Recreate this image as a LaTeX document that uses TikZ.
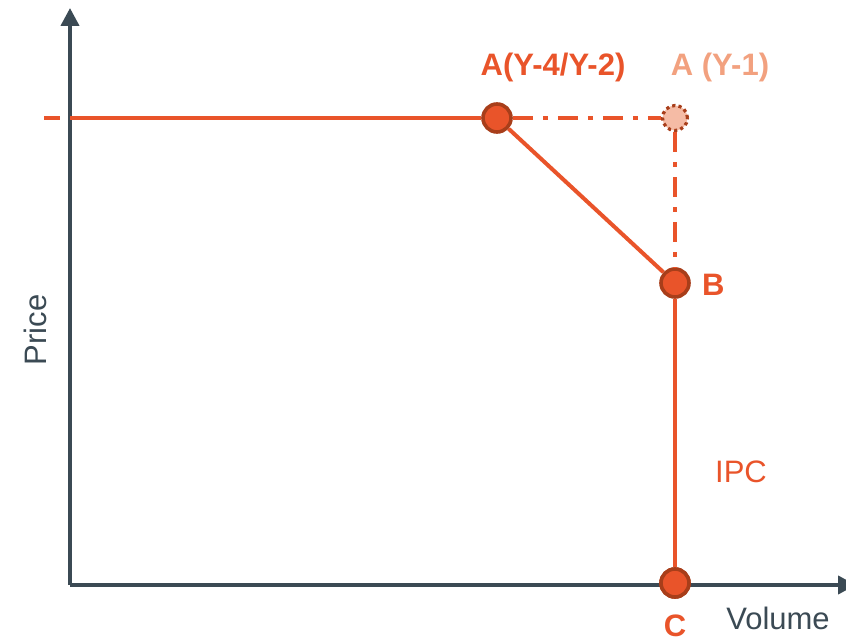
\documentclass[tikz,border=0pt]{standalone}
\usepackage{fontspec}
\setmainfont{Liberation Sans}
\usetikzlibrary{arrows.meta}

\definecolor{axisgray}{HTML}{3B4A54}
\definecolor{ipcorange}{HTML}{E9542A}
\definecolor{ipcdark}{HTML}{A83E1A}
\definecolor{ipclight}{HTML}{F5BBA5}
\definecolor{ipcfade}{HTML}{F2A17F}

\tikzset{
  dot/.style={circle, draw=ipcdark, fill=ipcorange, line width=1.8pt, minimum size=14pt, inner sep=0pt},
  olddot/.style={circle, draw=ipcdark, fill=ipclight, line width=1.6pt, dash pattern=on 1.6pt off 1.6pt, minimum size=12.5pt, inner sep=0pt},
  dashdot/.style={ipcorange, line width=2pt, dash pattern=on 10pt off 5pt on 2.5pt off 5pt},
  lbl/.style={font=\fontsize{15.5}{17}\selectfont}
}

\begin{document}
\begin{tikzpicture}[x=0.5pt, y=-0.5pt]
\useasboundingbox (0,0) rectangle (846,641);
\def\ox{70}
\def\oy{585}

% Axes
\coordinate (O) at (\ox,\oy);
\coordinate (ytop) at (\ox,8);
\coordinate (xend) at (856,\oy);
\draw[axisgray, line width=2pt, -{Triangle[length=9pt,width=9pt]}] (O) -- (ytop);
\draw[axisgray, line width=2pt, -{Triangle[length=9pt,width=9pt]}] (O) -- (xend);

% Points
\node[dot] (A) at (497,118) {};
\node[olddot] (A1) at (675,118) {};
\node[dot] (B) at (675,283) {};
\node[dot] (C) at (675,583) {};

% Price level
\coordinate (pstart) at (\ox,118);
\coordinate (ptick1) at (44,118);
\coordinate (ptick2) at (60,118);
\draw[ipcorange, line width=2pt] (pstart) -- (A);
\draw[ipcorange, line width=2pt] (ptick1) -- (ptick2);

% Previous year position
\draw[dashdot] (A) -- (A1);
\draw[dashdot] (A1) -- (B);

% IPC curve
\draw[ipcorange, line width=2pt] (A) -- (B);
\draw[ipcorange, line width=2pt] (B) -- (C);
\node[dot] at (C) {};

% Labels
\node[lbl, text=ipcorange, font=\fontsize{15.5}{17}\selectfont\bfseries] (lA) at (553,67) {A(Y-4/Y-2)};
\node[lbl, text=ipcfade, font=\fontsize{15.5}{17}\selectfont\bfseries] (lA1) at (720,67) {A (Y-1)};
\node[lbl, text=ipcorange, font=\fontsize{15.5}{17}\selectfont\bfseries, anchor=west] (lB) at (695,285) {B};
\node[lbl, text=ipcorange, font=\fontsize{15.5}{17}\selectfont\bfseries] (lC) at (675,626) {C};
\node[lbl, text=ipcorange] (lIPC) at (741,472) {IPC};
\node[lbl, text=axisgray] (lvol) at (778,618) {Volume};
\node[lbl, text=axisgray, rotate=90] (lprice) at (35,330) {Price};
\end{tikzpicture}
\end{document}
